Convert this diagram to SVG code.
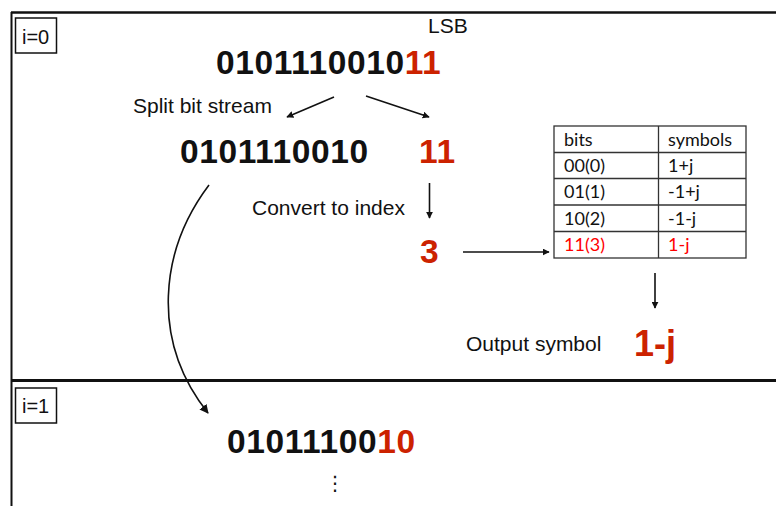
<svg xmlns="http://www.w3.org/2000/svg" width="776" height="506" viewBox="0 0 776 506">
<style>
.t{font-family:"Liberation Sans",Arial,sans-serif;font-size:21px;fill:#111}
.b{font-family:"Liberation Sans",Arial,sans-serif;font-size:33.5px;font-weight:bold;fill:#111;letter-spacing:0.6px}
.r{fill:#cc2200}
.tb{font-family:Lato,"Liberation Sans",sans-serif;font-size:18px;fill:#111}
.tr{fill:#ff0000}
.ln{stroke:#111;fill:none}
.cell{stroke:#333;stroke-width:1.3;fill:#fff}
</style>
<defs>
<marker id="ah" viewBox="0 0 10 10" refX="9" refY="5" markerWidth="7" markerHeight="7" markerUnits="userSpaceOnUse" orient="auto">
<path d="M0,0 L10,5 L0,10 z" fill="#111"/>
</marker>
<marker id="ah2" viewBox="0 0 10 10" refX="9" refY="5" markerWidth="9" markerHeight="9" markerUnits="userSpaceOnUse" orient="auto">
<path d="M0,0 L10,5 L0,10 z" fill="#111"/>
</marker>
</defs>
<rect width="776" height="506" fill="#fff"/>
<g id="frame">
<line x1="11" y1="12.5" x2="776" y2="12.5" stroke="#111" stroke-width="2.5"/>
<line x1="11.5" y1="12" x2="11.5" y2="506" stroke="#111" stroke-width="2"/>
<line x1="11" y1="380.5" x2="776" y2="380.5" stroke="#111" stroke-width="3"/>
</g>
<g id="iter0">
<rect x="15.5" y="18" width="41" height="35" fill="#fff" stroke="#111" stroke-width="1.5"/>
<text class="t" x="22" y="44" style="font-size:20px">i=0</text>
</g>
<g id="lsb"><text class="t" x="428" y="33">LSB</text></g>
<g id="stream0"><text class="b" x="216" y="74">0101110010<tspan class="r">11</tspan></text></g>
<g id="split-label"><text class="t" x="133" y="113">Split bit stream</text></g>
<g id="msb0"><text class="b" x="180" y="163">0101110010</text></g>
<g id="lsb0"><text class="b r" x="419" y="163">11</text></g>
<g id="convert-label"><text class="t" x="252" y="215">Convert to index</text></g>
<g id="index"><text class="b r" x="420" y="263">3</text></g>
<g id="table">
<rect class="cell" x="554" y="126" width="192" height="132"/>
<line class="cell" x1="658.5" y1="126" x2="658.5" y2="258"/>
<line class="cell" x1="554" y1="152.5" x2="746" y2="152.5"/>
<line class="cell" x1="554" y1="178.5" x2="746" y2="178.5"/>
<line class="cell" x1="554" y1="205" x2="746" y2="205"/>
<line class="cell" x1="554" y1="231.5" x2="746" y2="231.5"/>
<text class="tb" x="564" y="146">bits</text>
<text class="tb" x="668" y="146">symbols</text>
<text class="tb" x="564" y="172">00(0)</text>
<text class="tb" x="668" y="172">1+j</text>
<text class="tb" x="564" y="198">01(1)</text>
<text class="tb" x="668" y="198">-1+j</text>
<text class="tb" x="564" y="225">10(2)</text>
<text class="tb" x="668" y="225">-1-j</text>
<text class="tb tr" x="564" y="251">11(3)</text>
<text class="tb tr" x="668" y="251">1-j</text>
</g>
<g id="output-label"><text class="t" x="466" y="351">Output symbol</text></g>
<g id="output"><text class="b r" x="634" y="356" style="font-size:36px;letter-spacing:0">1-j</text></g>
<g id="iter1">
<rect x="15.5" y="388" width="41" height="35" fill="#fff" stroke="#111" stroke-width="1.5"/>
<text class="t" x="22" y="413" style="font-size:20px">i=1</text>
</g>
<g id="stream1"><text class="b" x="227" y="453">01011100<tspan class="r">10</tspan></text></g>
<g id="ellipsis"><text x="335" y="490" text-anchor="middle" style="font-family:'DejaVu Sans',sans-serif;font-size:20px;fill:#111">⋮</text></g>
<g id="connectors">
<line class="ln" x1="334" y1="97" x2="287" y2="117" stroke-width="1.6" marker-end="url(#ah)"/>
<line class="ln" x1="366" y1="96" x2="429" y2="117" stroke-width="1.6" marker-end="url(#ah)"/>
<line class="ln" x1="429.5" y1="183" x2="429.5" y2="218" stroke-width="1.6" marker-end="url(#ah)"/>
<line class="ln" x1="463" y1="252" x2="549" y2="252" stroke-width="1.6" marker-end="url(#ah)"/>
<line class="ln" x1="655" y1="273" x2="655" y2="308" stroke-width="1.6" marker-end="url(#ah)"/>
<path class="ln" d="M209,185 C160,250 150,340 208,413" stroke-width="1.6" marker-end="url(#ah2)"/>
</g>
</svg>
